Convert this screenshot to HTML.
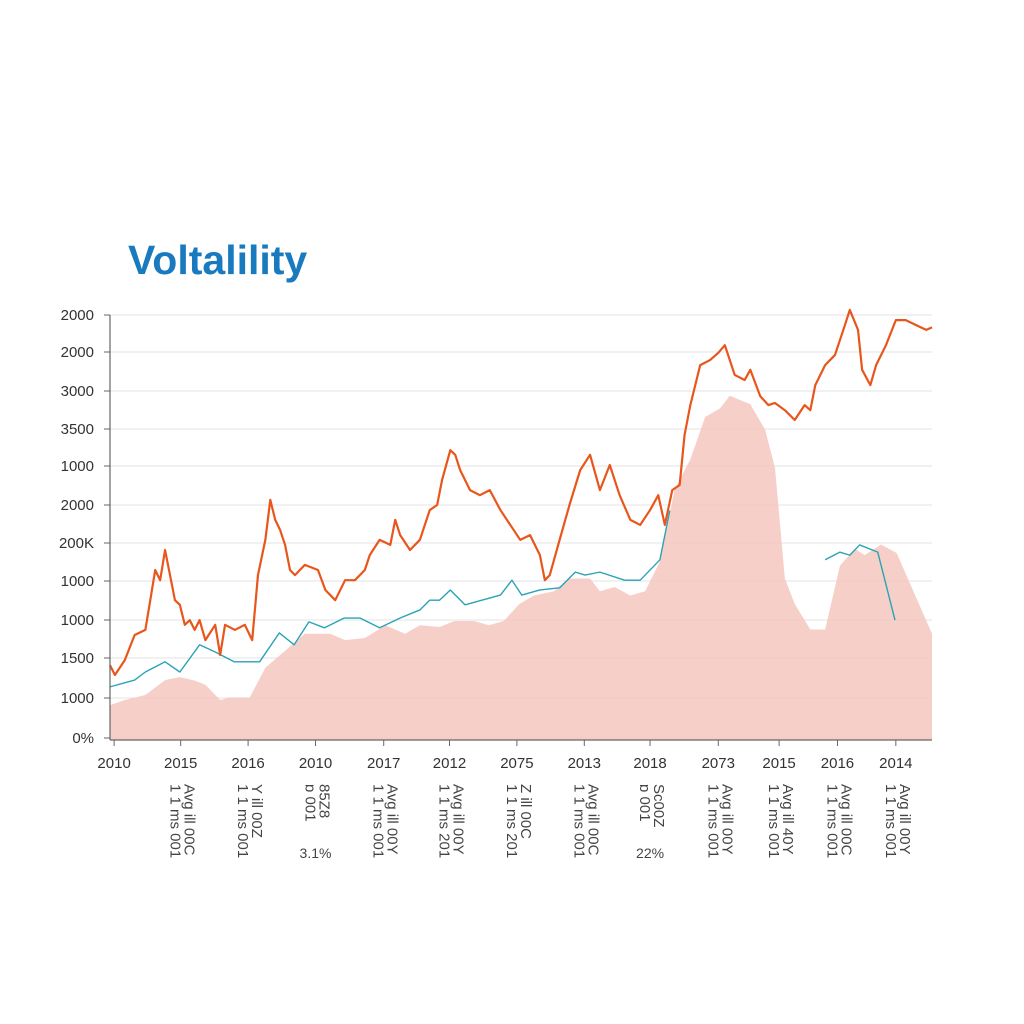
<!DOCTYPE html>
<html><head><meta charset="utf-8"><style>
body{margin:0;background:#fff;}
svg{display:block;font-family:"Liberation Sans",sans-serif;}
</style></head><body>
<svg id="chart" width="1024" height="1024" viewBox="0 0 1024 1024">
<rect width="1024" height="1024" fill="#fff"/>
<text x="128" y="274" font-size="41" font-weight="bold" fill="#1a7abf">Voltalility</text>
<g id="grid"></g>
<g id="yaxis"></g>
<g id="series"></g>
<g id="xaxis"></g>
</svg>
<script>
const yTickLabels=["2000","2000","3000","3500","1000","2000","200K","1000","1000","1500","1000","0%"];
const xTickLabels=["2010","2015","2016","2010","2017","2012","2075","2013","2018","2073","2015","2016","2014"];
const xTickPos=[0.5,8.6,16.8,25,33.3,41.3,49.5,57.7,65.7,74,81.4,88.5,95.6];
const subA=["","1 1 ms 001","1 1 ms 001","ɒ 001","1 1 ms 001","1 1 ms 201","1 1 ms 201","1 1 ms 001","ɒ 001","1 1 ms 001","1 1 ms 001","1 1 ms 001","1 1 ms 001"];
const subB=["","Avg ill 00C","Y ill 00Z","85Z8","Avg ill 00Y","Avg ill 00Y","Z ill 00C","Avg ill 00C","Sc00Z","Avg ill 00Y","Avg ill 40Y","Avg ill 00C","Avg ill 00Y"];
const subC=["","","","3.1%","","","","","22%","","","",""];
const areaX=[0,1.8,4.3,6.7,8.5,10.3,11.6,13.4,14.6,17,18.9,20.1,21.9,23.7,26.8,28.6,31,33.5,35.9,37.7,40.1,41.9,44.3,46.1,47.9,49.8,51.6,54,55.8,58.4,59.6,61.4,63.3,65.1,66.9,68.7,70.6,72.4,74.2,75.4,77.9,79.7,80.9,82.1,83.3,85.2,87,88.8,90.6,91.8,93.8,95.7,100];
const areaV=[8.2,9.4,10.6,14.1,14.8,14,13,9.4,10,10,17,19,22,25,25,23.5,24,27,25,27,26.6,28,28,27,28,32,34,35,38,38,35,36,34,35,42,59,66,76,78,81,79,73,64,38,32,26,26,41,45,43.5,46,44,25];
const tealX=[0,3,4.3,6.7,8.5,10.9,12.8,15.1,18.2,20.6,22.4,24.2,26.1,28.5,30.4,32.8,35.3,37.7,38.9,40.1,41.4,43.2,47.5,48.9,50.1,52.3,54.7,56.6,57.8,59.6,62.6,64.5,66.9,68.1];
const tealV=[12.5,14.1,16,18.4,16,22.4,20.7,18.4,18.4,25.2,22.4,27.8,26.4,28.7,28.7,26.4,28.7,30.6,32.9,32.9,35.3,31.8,34.1,37.6,34.1,35.3,35.8,39.5,38.8,39.5,37.6,37.6,42.4,54];
const tealX2=[87,88.8,90,91.2,93.4,95.5];
const tealV2=[42.4,44.2,43.5,45.9,44.2,28.2];
const oX=[0,0.6,1.8,3,4.3,4.9,5.5,6.1,6.7,7.3,7.9,8.5,9.1,9.7,10.3,10.9,11.6,12.8,13.4,14,15.2,16.4,17.3,18,18.9,19.5,20.1,20.7,21.3,21.9,22.5,23.7,25.3,26.2,27.4,28.6,29.8,31,31.6,32.8,34.1,34.7,35.3,36.5,37.7,38.9,39.8,40.4,41.4,42,42.6,43.8,45,46.2,47.5,48.7,49.9,51.1,52.3,52.9,53.5,54.7,55.9,57.2,58.4,59.6,60.8,62,63.3,64.5,65.7,66.7,67.5,68.4,69.3,69.9,70.6,71.8,73,74,74.8,76,77.2,77.9,79.1,80.1,80.9,82.1,83.3,84.5,85.2,85.8,87,88.2,89.4,90,91,91.5,92.5,93.2,94.4,95.6,96.8,98.1,99.3,100];
const oV=[17.6,15.3,18.8,24.7,25.9,32.9,40,37.6,44.7,38.8,32.9,31.8,27.1,28.2,25.9,28.2,23.5,27.1,20,27.1,25.9,27.1,23.5,38.8,47.1,56.5,51.8,49.4,45.9,40,38.8,41.2,40,35.3,32.9,37.6,37.6,40,43.5,47.1,45.9,51.8,48.2,44.7,47.1,54.1,55.3,61.2,68.2,67.1,63.5,58.8,57.6,58.8,54.1,50.6,47.1,48.2,43.5,37.6,38.8,47.1,55.3,63.5,67.1,58.8,64.7,57.6,51.8,50.6,54.1,57.6,50.6,58.8,60,71.8,78.8,88.2,89.4,91.1,92.9,85.9,84.7,87.1,80.9,78.8,79.3,77.6,75.3,78.8,77.6,83.5,88.2,90.6,97.6,101.2,96.5,87.1,83.5,88.2,92.9,98.8,98.8,97.6,96.5,97.1,92.2];
const X0=110,X1=932,Y0=740,Y1=315;
function sx(v){return X0+(X1-X0)*v/100;}
function sy(v){return Y0-(Y0-Y1)*v/100;}
const NS="http://www.w3.org/2000/svg";
function mk(tag,attrs,parent){const e=document.createElementNS(NS,tag);for(const k in attrs)e.setAttribute(k,attrs[k]);parent.appendChild(e);return e;}
const grid=document.getElementById('grid'),yax=document.getElementById('yaxis'),ser=document.getElementById('series'),xax=document.getElementById('xaxis');
const gys=[315,352,391,429,466,505,543,581,620,658,698,738];
yTickLabels.forEach((l,i)=>{
  const y=gys[i];
  const g=mk('line',{x1:110,x2:932,y1:y,y2:y,stroke:'#e3e3e6','stroke-width':1},grid);
  
  
  const t=mk('text',{x:94,y:y+5,'text-anchor':'end','font-size':15,fill:'#333'},yax);
  t.textContent=l;
  
  
  const tk=mk('line',{x1:104,x2:110,y1:y,y2:y,stroke:'#666'},yax);
  
  
});
let d='M'+sx(areaX[0])+','+Y0;
areaX.forEach((x,i)=>{d+=' L'+sx(x)+','+sy(areaV[i]);});
d+=' L'+sx(areaX[areaX.length-1])+','+Y0+' Z';
const area=mk('path',{d:d,fill:'#f5c7c0','fill-opacity':0.85},ser);


function line(xs,vs,color,w,name){
  const p=mk('path',{d:xs.map((x,i)=>(i?'L':'M')+sx(x)+','+sy(vs[i])).join(' '),fill:'none',stroke:color,'stroke-width':w,'stroke-linejoin':'round'},ser);
  
  
}
line(tealX,tealV,'#2aa3b6',1.4,'teal-line');
line(tealX2,tealV2,'#2aa3b6',1.4,'teal-line-2');
line(oX,oV,'#e8561c',2.2,'price-line');
const ax=mk('line',{x1:110,x2:110,y1:315,y2:740,stroke:'#666','stroke-width':1.2},xax);


const bx=mk('line',{x1:110,x2:932,y1:740,y2:740,stroke:'#666','stroke-width':1.2},xax);


xTickLabels.forEach((l,i)=>{
  const x=sx(xTickPos[i]);
  const tk=mk('line',{x1:x,x2:x,y1:740,y2:746,stroke:'#666'},xax);
  
  
  const t=mk('text',{x:x,y:768,'text-anchor':'middle','font-size':15,fill:'#333'},xax);
  t.textContent=l;
  
  
  if(subA[i]){
    const a=mk('text',{transform:'translate('+(x-10)+',784) rotate(90)','font-size':15,fill:'#444'},xax);
    a.textContent=subA[i];
    
    
    const b=mk('text',{transform:'translate('+(x+4)+',784) rotate(90)','font-size':15,fill:'#444'},xax);
    b.textContent=subB[i];
    
    
  }
  if(subC[i]){
    const c=mk('text',{x:x,y:858,'text-anchor':'middle','font-size':14,fill:'#444'},xax);
    c.textContent=subC[i];
    
    
  }
});
</script>
</body></html>
